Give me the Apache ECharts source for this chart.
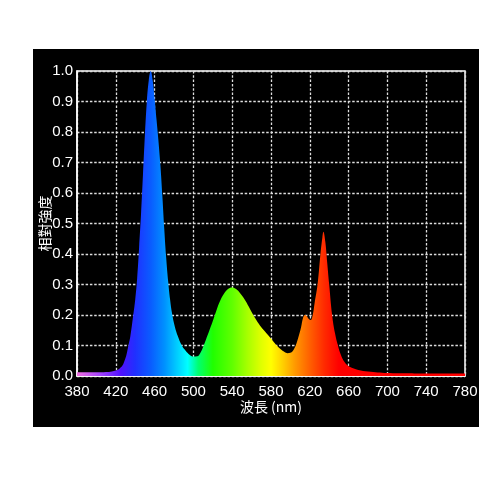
<!DOCTYPE html>
<html>
<head>
<meta charset="utf-8">
<script src="https://cdn.jsdelivr.net/npm/echarts@6/dist/echarts.min.js"></script>
<style>
  html, body { margin: 0; padding: 0; background: #fff; }
  #panel { position: absolute; left: 33px; top: 49px; width: 446px; height: 378px; background: #000; }
  #spectrum { width: 446px; height: 378px; }
</style>
</head>
<body>
<div id="panel"><div id="spectrum"></div></div>
<script>
// 波長 (nm)
var wavelengths = [380,390,400,410,416,420,424,427,429,431,433,435,438,440,442,444,446,448,450,452,
  454,456,458,460,462,464,466,468,470,472,474,476,478,481,484,488,492,496,500,504,
  507,510,513,516,520,523,527,532,536,540,544,548,553,557,560,565,570,574,578,582,
  586,590,594,597,600,604,608,611,613,615,617,619,621,623,625,628,631,633,634,636,
  638,640,643,646,649,652,656,661,670,680,700,720,740,760,780];
// 相對強度
var intensity = [0.012,0.012,0.012,0.013,0.015,0.018,0.025,0.035,0.05,0.07,0.1,0.13,0.2,0.25,0.32,0.42,0.53,0.66,0.79,0.9,
  0.97,1.0,0.97,0.91,0.84,0.77,0.69,0.59,0.48,0.385,0.31,0.25,0.205,0.16,0.13,0.1,0.083,0.07,0.064,0.065,
  0.075,0.095,0.12,0.145,0.18,0.208,0.243,0.272,0.286,0.29,0.285,0.272,0.25,0.228,0.21,0.183,0.16,0.145,0.13,0.115,
  0.1,0.088,0.079,0.075,0.076,0.09,0.125,0.16,0.19,0.2,0.196,0.187,0.184,0.2,0.24,0.3,0.4,0.455,0.473,0.44,
  0.37,0.3,0.2,0.14,0.1,0.07,0.045,0.03,0.02,0.015,0.01,0.009,0.008,0.008,0.008];
var xTicks = [380,420,460,500,540,580,620,660,700,740,780];
var yTicks = [0,0.1,0.2,0.3,0.4,0.5,0.6,0.7,0.8,0.9,1.0];

var startNm = xTicks[0];
var endNm = xTicks[xTicks.length - 1];

// 光譜顏色 (波長, 顏色)
var spectrumNm = [380,405,425,440,456,470,482,494,505,520,540,556,570,580,592,605,620,635,650,780];
var spectrumColor = ['#f070e0','#a040ff','#5010ff','#2030ff','#0a5cff','#0090ff','#00c8ff','#00ffff','#00ff70','#20ff00',
  '#60ff00','#a8ff00','#e0ff00','#ffff00','#ffd000','#ff9800','#ff6000','#ff2a00','#ff0000','#ff0000'];

var chart = echarts.init(document.getElementById('spectrum'));

var seriesData = [];
for (var i = 0; i < wavelengths.length; i++) {
  seriesData.push([wavelengths[i] - startNm, intensity[i]]);
}
var stops = [];
for (var j = 0; j < spectrumNm.length; j++) {
  stops.push({ offset: (spectrumNm[j] - startNm) / (endNm - startNm), color: spectrumColor[j] });
}

var labelFont = { color: '#fff', fontSize: 15, fontFamily: 'Liberation Sans, Arial, sans-serif' };

chart.setOption({
  animation: false,
  backgroundColor: '#000',
  grid: {
    left: 44, top: 22, right: 14, bottom: 51,
    containLabel: false,
    outerBoundsMode: 'none',
    show: true, borderColor: '#fff', borderWidth: 1.5
  },
  xAxis: {
    type: 'value',
    min: 0,
    max: endNm - startNm,
    interval: 40,
    name: '波長 (nm)',
    nameLocation: 'middle',
    nameGap: 24,
    nameMoveOverlap: false,
    nameTextStyle: { color: '#fff', fontSize: 14, fontFamily: 'Noto Sans CJK TC, sans-serif' },
    axisLine: { lineStyle: { color: '#fff', width: 1.5 } },
    axisTick: { show: false },
    axisLabel: Object.assign({ margin: 8, formatter: function (v) { return v + startNm; } }, labelFont),
    splitLine: { show: true, lineStyle: { color: '#ddd', width: 1.3, type: [2.5, 1.8] } }
  },
  yAxis: {
    type: 'value',
    min: yTicks[0],
    max: yTicks[yTicks.length - 1],
    interval: 0.1,
    name: '相對強度',
    nameLocation: 'middle',
    nameGap: 25,
    nameMoveOverlap: false,
    nameTextStyle: { color: '#fff', fontSize: 14, fontFamily: 'Noto Sans CJK TC, sans-serif' },
    axisLine: { show: true, lineStyle: { color: '#fff', width: 1.5 } },
    axisTick: { show: false },
    axisLabel: Object.assign({ margin: 4, formatter: function (v) { return v.toFixed(1); } }, labelFont),
    splitLine: { show: true, lineStyle: { color: '#ddd', width: 1.3, type: [2.5, 1.8] } }
  },
  series: [{
    type: 'line',
    data: seriesData,
    smooth: 0.4,
    showSymbol: false,
    lineStyle: { width: 0 },
    areaStyle: {
      opacity: 1,
      color: new echarts.graphic.LinearGradient(0, 0, 1, 0, stops)
    },
    z: 1
  }]
});
</script>
</body>
</html>
